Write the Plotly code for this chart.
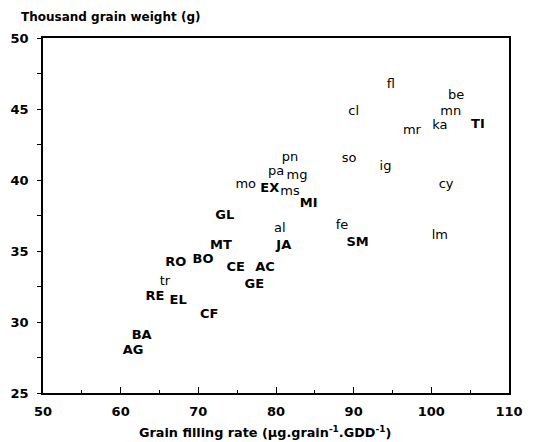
import plotly.graph_objects as go

labels = ["fl", "be", "cl", "mn", "mr", "ka", "TI", "pn", "so", "ig", "pa", "mg",
          "mo", "EX", "ms", "MI", "cy", "GL", "al", "fe", "lm", "SM", "JA", "MT",
          "RO", "BO", "CE", "AC", "tr", "GE", "RE", "EL", "CF", "BA", "AG"]
grain_filling_rate = [94.8, 103.2, 90.0, 102.5, 97.5, 101.1, 106.0, 81.8, 89.4, 94.1, 80.0, 82.7,
                      76.1, 79.2, 81.8, 84.2, 101.9, 73.4, 80.5, 88.5, 101.1, 90.5, 81.0, 72.9,
                      67.1, 70.6, 74.8, 78.6, 65.7, 77.2, 64.4, 67.4, 71.4, 62.7, 61.6]
grain_weight = [46.7, 45.9, 44.8, 44.8, 43.5, 43.8, 43.9, 41.6, 41.5, 40.9, 40.6, 40.3,
                39.7, 39.4, 39.2, 38.3, 39.7, 37.5, 36.6, 36.8, 36.1, 35.6, 35.4, 35.4,
                34.2, 34.4, 33.8, 33.8, 32.8, 32.6, 31.8, 31.5, 30.5, 29.0, 28.0]

x_ticks = [50, 60, 70, 80, 90, 100, 110]
y_ticks = [25, 30, 35, 40, 45, 50]

disp = [f"<b>{l}</b>" if l[0].isupper() else l for l in labels]

FONT = "DejaVu Sans, Verdana, sans-serif"

fig = go.Figure(go.Scatter(
    x=grain_filling_rate, y=grain_weight, text=disp, mode="text",
    textposition="middle center",
    textfont=dict(family=FONT, size=13, color="black"),
    hoverinfo="skip", showlegend=False))

axis_common = dict(showgrid=False, zeroline=False, showline=True, linecolor="black",
                   linewidth=1.5, mirror=True,
                   tickfont=dict(family=FONT, size=13, color="black", weight="bold"))

fig.update_xaxes(range=[50, 110], tickvals=x_ticks, ticks="inside", ticklen=6,
                 tickcolor="black", tickwidth=1.2, ticklabelstandoff=6,
                 minor=dict(dtick=5, tick0=50, ticks="inside", ticklen=3, tickcolor="black"),
                 **axis_common)
fig.update_yaxes(range=[25, 50], tickvals=y_ticks, ticks="outside", ticklen=4,
                 tickcolor="black", tickwidth=1.2, ticklabelstandoff=6,
                 minor=dict(dtick=2.5, tick0=25, ticks="outside", ticklen=4, tickcolor="black"),
                 **axis_common)

fig.update_layout(
    width=550, height=442,
    margin=dict(l=43, r=41, t=38, b=49),
    plot_bgcolor="white", paper_bgcolor="white",
    font=dict(family=FONT, color="black"),
    annotations=[
        dict(text="<b>Thousand grain weight (g)</b>", xref="paper", yref="paper",
             x=-0.052, y=1.06, xanchor="left", yanchor="middle", showarrow=False,
             font=dict(size=12)),
        dict(text="<b>Grain filling rate (μg.grain<sup>-1</sup>.GDD<sup>-1</sup>)</b>",
             xref="paper", yref="paper", x=0.476, y=-0.11, xanchor="center", yanchor="middle",
             showarrow=False, font=dict(size=12.8)),
    ],
)

fig.write_html("out.html", config={"displayModeBar": False},
               post_script="document.body.style.margin='0';")
